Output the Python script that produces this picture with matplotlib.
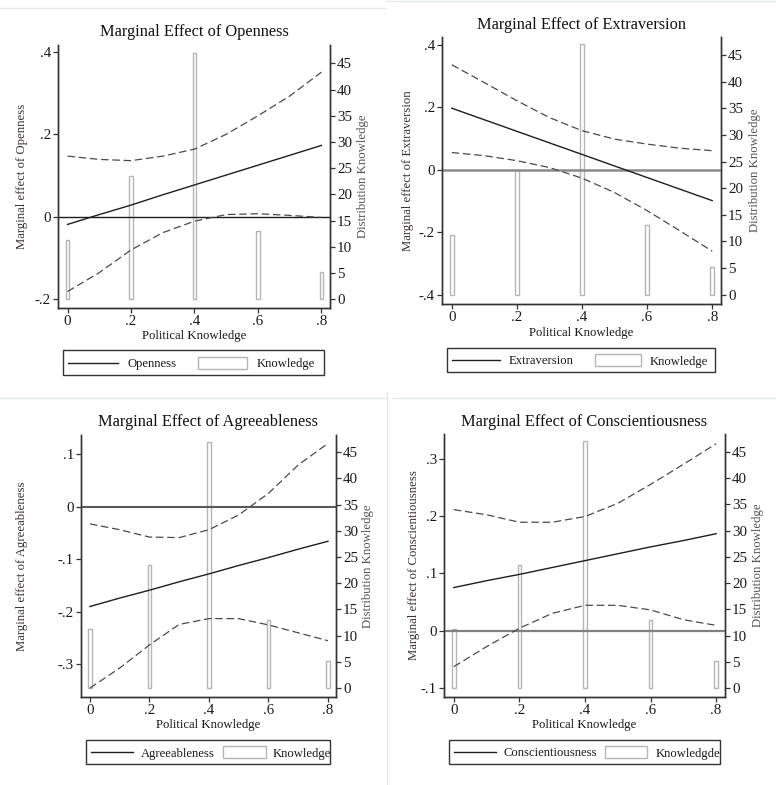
import matplotlib
matplotlib.use("Agg")
import matplotlib.pyplot as plt
from matplotlib.lines import Line2D
from matplotlib.patches import Rectangle

plt.rcParams['font.family'] = ['Liberation Serif', 'DejaVu Serif']

W, H = 776, 785

# ---------------- data ----------------
knowledge_grid = [0.0, 0.1, 0.2, 0.3, 0.4, 0.5, 0.6, 0.7, 0.8]

openness_est = [-0.019, 0.005, 0.028, 0.053, 0.077, 0.101, 0.125, 0.149, 0.173]
openness_hi = [0.147, 0.139, 0.136, 0.147, 0.164, 0.200, 0.245, 0.293, 0.351]
openness_lo = [-0.182, -0.136, -0.081, -0.039, -0.011, 0.005, 0.007, 0.003, -0.002]

extraversion_est = [0.197, 0.160, 0.123, 0.086, 0.049, 0.012, -0.025, -0.062, -0.099]
extraversion_hi = [0.336, 0.279, 0.221, 0.167, 0.125, 0.098, 0.082, 0.069, 0.061]
extraversion_lo = [0.055, 0.045, 0.029, 0.007, -0.027, -0.073, -0.131, -0.195, -0.261]

agreeableness_est = [-0.190, -0.174, -0.159, -0.143, -0.128, -0.112, -0.097, -0.081, -0.066]
agreeableness_hi = [-0.033, -0.044, -0.058, -0.059, -0.044, -0.016, 0.025, 0.079, 0.120]
agreeableness_lo = [-0.345, -0.307, -0.263, -0.224, -0.213, -0.213, -0.225, -0.240, -0.255]

conscientiousness_est = [0.075, 0.087, 0.098, 0.110, 0.122, 0.134, 0.146, 0.157, 0.169]
conscientiousness_hi = [0.211, 0.202, 0.189, 0.189, 0.199, 0.222, 0.255, 0.290, 0.326]
conscientiousness_lo = [-0.063, -0.028, 0.004, 0.030, 0.044, 0.044, 0.036, 0.019, 0.009]

knowledge_levels = [0.0, 0.2, 0.4, 0.6, 0.8]
knowledge_counts = [11.2, 23.5, 47.0, 13.0, 5.2]

x_ticks = [0, 0.2, 0.4, 0.6, 0.8]
x_ticklabels = ["0", ".2", ".4", ".6", ".8"]
right_ticks = [0, 5, 10, 15, 20, 25, 30, 35, 40, 45]

panels = [
    dict(title="Marginal Effect of Openness", trait="Openness",
         est=openness_est, hi=openness_hi, lo=openness_lo,
         yticks=[-0.2, 0, 0.2, 0.4], yticklabels=["-.2", "0", ".2", ".4"],
         legend_bar="Knowledge"),
    dict(title="Marginal Effect of Extraversion", trait="Extraversion",
         est=extraversion_est, hi=extraversion_hi, lo=extraversion_lo,
         yticks=[-0.4, -0.2, 0, 0.2, 0.4], yticklabels=["-.4", "-.2", "0", ".2", ".4"],
         legend_bar="Knowledge"),
    dict(title="Marginal Effect of Agreeableness", trait="Agreeableness",
         est=agreeableness_est, hi=agreeableness_hi, lo=agreeableness_lo,
         yticks=[-0.3, -0.2, -0.1, 0, 0.1], yticklabels=["-.3", "-.2", "-.1", "0", ".1"],
         legend_bar="Knowledge"),
    dict(title="Marginal Effect of Conscientiousness", trait="Conscientiousness",
         est=conscientiousness_est, hi=conscientiousness_hi, lo=conscientiousness_lo,
         yticks=[-0.1, 0, 0.1, 0.2, 0.3], yticklabels=["-.1", "0", ".1", ".2", ".3"],
         legend_bar="Knowledgde"),
]

# ---------------- layout (pixels) ----------------
layout = [
    dict(box=(58, 45, 330, 308), ylim=(-0.222, 0.417), rlim=(-1.7, 48.5),
         title_y=32, xlab_y=336, ylab_x=22, rlab_x=363,
         leg=(63, 350, 324, 375), leg_line=(68, 118), leg_t1=127,
         leg_patch=(198, 247), leg_t2=257,
         zero_color="#1e1e1e", zero_lw=1.0),
    dict(box=(442, 37, 721, 304), ylim=(-0.43, 0.425), rlim=(-1.75, 48.4),
         title_y=25, xlab_y=333, ylab_x=408, rlab_x=755,
         leg=(447, 348, 715, 372), leg_line=(452, 500), leg_t1=509,
         leg_patch=(595, 641), leg_t2=650,
         zero_color="#8a8a8a", zero_lw=1.8),
    dict(box=(81, 435, 336, 697), ylim=(-0.362, 0.136), rlim=(-1.7, 48.3),
         title_y=422, xlab_y=725, ylab_x=22, rlab_x=368,
         leg=(86, 740, 330, 764), leg_line=(91, 133), leg_t1=141,
         leg_patch=(223, 266), leg_t2=273,
         zero_color="#5a5a5a", zero_lw=1.5),
    dict(box=(444, 434, 725, 697), ylim=(-0.116, 0.343), rlim=(-1.7, 48.4),
         title_y=422, xlab_y=725, ylab_x=414, rlab_x=758,
         leg=(449, 740, 720, 764), leg_line=(454, 496), leg_t1=504,
         leg_patch=(605, 647), leg_t2=656,
         zero_color="#808080", zero_lw=1.6),
]

fig = plt.figure(figsize=(W / 100, H / 100), dpi=100)
fig.patch.set_facecolor("white")


def fx(px):
    return px / W


def fy(py):
    return 1 - py / H


# faint panel separators
sep = "#e4eaea"
fig.add_artist(Line2D([0, fx(386)], [fy(8), fy(8)], color=sep, lw=1))
fig.add_artist(Line2D([fx(386), 1], [fy(0.5), fy(0.5)], color=sep, lw=1))
fig.add_artist(Line2D([0, fx(387)], [fy(398), fy(398)], color=sep, lw=1))
fig.add_artist(Line2D([fx(392), 1], [fy(398), fy(398)], color=sep, lw=1))
fig.add_artist(Line2D([fx(387), fx(387)], [0, fy(392)], color=sep, lw=1))

spine_c = "#333333"
tick_fs = 10.8
label_fs = 9.2
legend_fs = 9.1
bar_edge = "#b5b5b5"

for p, lay in zip(panels, layout):
    l, t, r, b = lay["box"]
    ax = fig.add_axes([fx(l), fy(b), (r - l) / W, (b - t) / H])
    ax2 = ax.twinx()
    ax.set_zorder(ax2.get_zorder() + 1)
    ax.patch.set_visible(False)

    # histogram of knowledge (right axis)
    ax2.bar(knowledge_levels, knowledge_counts, width=0.011, facecolor="white",
            edgecolor=bar_edge, linewidth=1.0)
    ax2.set_ylim(*lay["rlim"])
    ax2.set_yticks(right_ticks)

    # marginal effects (left axis)
    ax.axhline(0, color=lay["zero_color"], lw=lay["zero_lw"], zorder=1)
    ax.plot(knowledge_grid, p["hi"], color="#4a4a4a", lw=0.9, dashes=(6, 3), zorder=2)
    ax.plot(knowledge_grid, p["lo"], color="#4a4a4a", lw=0.9, dashes=(6, 3), zorder=2)
    ax.plot(knowledge_grid, p["est"], color="#1e1e1e", lw=1.0, zorder=3)

    ax.set_xlim(-0.03, 0.827)
    ax.set_ylim(*lay["ylim"])
    ax.set_xticks(x_ticks)
    ax.set_xticklabels(x_ticklabels)
    ax.set_yticks(p["yticks"])
    ax.set_yticklabels(p["yticklabels"])

    for a in (ax, ax2):
        a.spines["top"].set_visible(False)
        for s in ("left", "right", "bottom"):
            a.spines[s].set_color(spine_c)
            a.spines[s].set_linewidth(1.0)
        a.tick_params(direction="out", length=3.5, width=0.9, color=spine_c,
                      labelsize=tick_fs, labelcolor="#1a1a1a", pad=1.5)

    ax.set_title(p["title"], fontsize=11.8, color="#111111", pad=0,
                 y=(b - lay["title_y"]) / (b - t), va="center")
    ax.set_xlabel("Political Knowledge", fontsize=label_fs, color="#1a1a1a")
    ax.xaxis.set_label_coords(0.5, (b - lay["xlab_y"]) / (b - t))
    ax.xaxis.label.set_va("center")
    ax.set_ylabel("Marginal effect of " + p["trait"], fontsize=label_fs, color="#3a3030")
    ax.yaxis.set_label_coords((lay["ylab_x"] - l) / (r - l), 0.5)
    ax.yaxis.label.set_va("center")
    ax2.set_ylabel("Distribution Knowledge", fontsize=label_fs, color="#555555")
    ax2.yaxis.set_label_coords((lay["rlab_x"] - l) / (r - l), 0.5)
    ax2.yaxis.label.set_va("center")

    # legend box (Stata-style, fixed layout)
    lx0, ly0, lx1, ly1 = lay["leg"]
    yc = (ly0 + ly1) / 2
    fig.add_artist(Rectangle((fx(lx0), fy(ly1)), (lx1 - lx0) / W, (ly1 - ly0) / H,
                             facecolor="white", edgecolor="#333333", lw=1.0,
                             transform=fig.transFigure))
    a0, a1 = lay["leg_line"]
    fig.add_artist(Line2D([fx(a0), fx(a1)], [fy(yc), fy(yc)], color="#1e1e1e", lw=1.0))
    fig.text(fx(lay["leg_t1"]), fy(yc), p["trait"], fontsize=legend_fs, color="#1a1a1a",
             va="center_baseline", ha="left")
    p0, p1 = lay["leg_patch"]
    fig.add_artist(Rectangle((fx(p0), fy(yc + 6)), (p1 - p0) / W, 12 / H,
                             facecolor="white", edgecolor=bar_edge, lw=1.0,
                             transform=fig.transFigure))
    fig.text(fx(lay["leg_t2"]), fy(yc), p["legend_bar"], fontsize=legend_fs, color="#1a1a1a",
             va="center_baseline", ha="left")

fig.savefig("out.png", dpi=100, facecolor="white")
